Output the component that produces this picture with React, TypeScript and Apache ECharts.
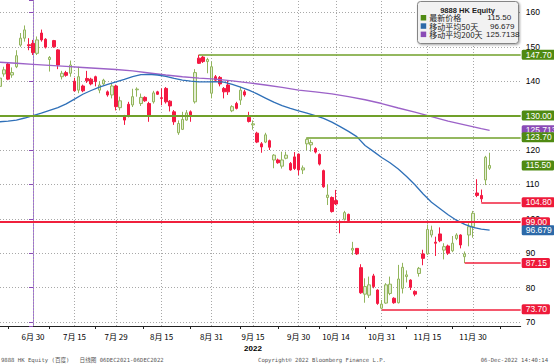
import React, { useEffect, useRef } from 'react';
import * as echarts from 'echarts';

// Trading days (2022), index -8 .. 110 (06-30 = 0)
const tradingDays = [
  '06-20','06-21','06-22','06-23','06-24','06-27','06-28','06-29','06-30',
  '07-04','07-05','07-06','07-07','07-08','07-11','07-12','07-13','07-14','07-15','07-18','07-19','07-20','07-21','07-22','07-25','07-26','07-27','07-28','07-29',
  '08-01','08-02','08-03','08-04','08-05','08-08','08-09','08-10','08-11','08-12','08-15','08-16','08-17','08-18','08-19','08-22','08-23','08-24','08-25','08-26','08-29','08-30','08-31',
  '09-01','09-02','09-05','09-06','09-07','09-08','09-09','09-13','09-14','09-15','09-16','09-19','09-20','09-21','09-22','09-23','09-26','09-27','09-28','09-29','09-30',
  '10-03','10-05','10-06','10-07','10-10','10-11','10-12','10-13','10-14','10-17','10-18','10-19','10-20','10-21','10-24','10-25','10-26','10-27','10-28','10-31',
  '11-01','11-02','11-03','11-04','11-07','11-08','11-09','11-10','11-11','11-14','11-15','11-16','11-17','11-18','11-21','11-22','11-23','11-24','11-25','11-28','11-29','11-30',
  '12-01','12-02','12-05','12-06'
];
const FIRST_DAY = -8;

const openP = [
  138.5,142.1,145,141.8,144.2,150.5,152.5,150.6,151,
  148.1,154,152.2,146.3,151.8,149.1,141.3,142.5,142.3,140,137.4,138.6,140.8,140.6,141.3,137.4,139.2,136.9,136,138.6,
  132.3,129.9,133.3,133.1,137.5,133.5,135.3,133.5,134,136.9,135.2,137.9,134.2,131.1,125,126,128.7,131.1,134,146.7,147,145.7,136.5,
  141.3,141.1,137.9,138.9,131.4,133.5,134.5,136.9,129.5,127.3,124.9,121.8,122.3,122.7,117.1,117.1,115.3,117.6,116.1,118,118.8,
  114.2,121.8,121.5,120.4,118.7,114,106.2,106.2,105.3,99.2,99.9,101.3,90.9,91.4,85.8,78.1,77.8,83.4,79.3,74,
  75.5,78.3,76.9,75.6,79.8,83.2,82.2,78.9,84.1,89.8,89.8,95.3,93.2,95.6,90.9,92.1,90.7,94.3,95.3,89,95.3,97.7,
  107.5,106.8,111.3,114.7
];
const closeP = [
  140.9,143.3,140.6,142.5,147.4,152.5,154.9,150.3,148.3,
  152,152,149.9,146.9,150,144.7,142.3,141.7,144.7,137.2,141.3,137.2,140.1,139.2,139.9,138.9,140.3,136,138.6,132.6,
  134.3,128.7,129.9,135.5,137.7,135.3,134.3,129.9,136.6,136.2,135,134,132.8,128.2,127.7,128.9,130.8,130.2,142.5,145.2,145.7,146.3,144.2,
  140.3,139.2,136.9,136.9,132.6,132.1,137.4,136,128.3,127.6,122.3,120.9,124.4,120.8,118.5,116.3,117.1,118.5,114.2,114.6,114.2,
  114.8,123.1,122.2,119.4,115.9,109.3,106.9,102.1,104.3,98.9,101.8,99.5,91.4,89.8,78.5,80.3,80.8,80.3,75.4,75.2,
  80.8,81,75.6,82.5,85.9,83.7,80.1,78.1,85.6,88.5,96.9,96.7,92.9,93.6,91.9,90,92.9,95.3,92.4,89.8,97.7,101.6,
  106.8,105.8,117.9,115.5
];
const lowP = [
  137.5,141.3,140.3,141,143.8,150,151.5,149,147.6,
  147.6,151.5,149.5,142.8,149.7,143.5,140.5,141.3,141.3,137,136.5,136.8,139.5,138.8,138.5,136.5,138.8,135.5,135,131.5,
  131.5,127.3,129.5,132.5,135.5,132.8,134,128.2,133.5,136,133,133.5,131.2,127.3,124.4,125.8,128.5,128.2,133.5,145,145.3,142.3,135,
  139.8,138.5,135,136,131,131.8,133.1,135.5,128,125.9,122,119.2,122,120,114.7,116,114.6,117.3,114,114.2,112.7,
  113,119.9,119.5,119,115.5,109,104,101.8,104,95.8,99.5,99.2,89.5,89.5,78.2,75.6,77,79.8,75,73.7,
  75.3,77.8,75.3,75.4,78.3,81.5,79.3,77.5,83.2,86.5,89.5,94.6,89.2,93.2,88.2,89.5,90.3,93.8,91.4,87.15,92,94.5,
  106.3,104.8,109.8,114.2
];
const highP = [
  141.5,144.2,145.3,144,149,154,156.2,152.5,152,
  153,155,152.5,147.3,152,149.3,143,143,146,141,144.2,139,143,141,141.6,140,140.7,137.3,139.5,139,
  135.5,130.2,134,137.8,138.2,136.4,135.6,134,137.2,137.2,137.9,138.3,134.5,131.6,128.6,131.1,131.6,131.5,143.5,147.7,147.3,146.8,145.7,
  141.8,141.5,138.3,140.3,133,134,138.4,137.5,131.1,128.6,125.3,122.3,125,123,118.8,117.5,119.5,119.5,116.5,119.4,119,
  115.5,123.7,123,120.8,119,114.3,110,106.5,108.4,99.6,102.3,101.5,93.3,91.5,86.8,82.7,83.2,84,79.5,76.4,
  81.3,83.2,77.2,86.6,87.2,85,82.4,79.2,86,91,98.3,98,94.8,97.5,92.9,92.5,95,95.8,95.5,90.5,98.7,102.3,
  111.5,108.5,118.3,119.2
];

// Moving averages
const ma50Days = [-8,-6,-4,-2,0,2,4,6,8,10,12,14,16,18,20,22,24,26,28,30,32,34,36,38,40,42,44,46,48,50,52,54,56,58,60,62,64,66,68,70,72,74,76,78,80,82,84,86,88,90,92,94,96,98,100,102,104,106,108,110];
const ma50 = [128.2,128.4,128.7,129.3,130.0,130.7,131.5,132.3,133.4,134.8,136.2,137.3,138.3,139.1,139.8,140.5,141.3,141.9,142.0,141.8,141.4,140.8,140.3,140.0,139.8,139.8,139.9,139.7,139.1,138.3,137.4,136.3,135.1,133.9,132.9,132.1,131.4,130.7,130.0,129.2,128.1,126.8,125.4,123.9,121.3,119.6,117.8,116.3,114.5,112.3,109.9,107.2,104.8,103.0,101.2,99.6,98.4,97.5,97.0,96.679];
const ma200Days = [-8,-4,0,4,8,12,16,20,24,28,32,36,40,44,48,52,56,60,64,68,72,76,80,84,88,92,96,100,104,108,110];
const ma200 = [145.5,145.2,144.9,144.6,144.3,144.0,143.7,143.4,143.0,142.4,141.8,141.3,140.9,140.6,140.1,139.5,138.9,138.2,137.4,136.9,136.3,135.5,134.6,133.5,132.2,131.0,129.7,128.4,127.3,126.2,125.7138];

// Axis labels
const labelDays = [0, 10, 20, 31, 43, 53, 64, 73, 84, 95, 106];
const labelTexts = ['6月 30', '7月 15', '7月 29', '8月 15', '8月 31', '9月 15', '9月 30', '10月 14', '10月 31', '11月 15', '11月 30'];
const yearDay = 53;
const yearText = '2022';
const tickDays = [-6, 4, 15, 26.5, 38, 50, 59, 69, 80, 90, 101, 112.5];

// Levels
const fullLevels = [
  { value: 130.0, text: '130.00', kind: 'green' },
  { value: 99.0, text: '99.00', kind: 'red' },
];
const partLevels = [
  { value: 147.7, from: 40, text: '147.70', kind: 'green' },
  { value: 123.7, from: 66, text: '123.70', kind: 'green' },
  { value: 104.8, from: 108, text: '104.80', kind: 'red' },
  { value: 87.15, from: 104, text: '87.15', kind: 'red' },
  { value: 73.7, from: 84, text: '73.70', kind: 'red' },
];
const lastPrice = { value: 115.5, text: '115.50' };
const ma50Last = { value: 96.679, text: '96.679' };
const ma200Last = { value: 125.7138, text: '125.7138' };

const X_MIN = -7.95;
const X_MAX = 117.49;

const C = {
  greenLine: '#70a02a',
  greenTag: '#4f8a12',
  redLine: '#f0203c',
  redTag: '#ee1a3a',
  blue: '#2f70b8',
  blueTag: '#2c69a8',
  purple: '#9c62c8',
  purpleTag: '#8a4bb6',
  upFill: '#e3edd4',
  upBorder: '#92b55c',
  down: '#f41942',
  grid: '#a8a8a8',
};

const NUM_FONT = "'Liberation Sans Narrow','Liberation Sans',sans-serif";
const CJK_FONT = "'Liberation Sans Narrow','Noto Sans CJK SC',sans-serif";

function tagLabel(text: string, bg: string) {
  return {
    show: true,
    position: 'end',
    distance: 1,
    formatter: text,
    color: '#fff',
    backgroundColor: bg,
    fontSize: 8.5,
    fontFamily: NUM_FONT,
    lineHeight: 9,
    padding: [1, 3, 0, 4],
    borderRadius: 1.5,
    opacity: 1,
  };
}

const HIDDEN_LINE = { color: 'rgba(0,0,0,0)', width: 0.01, type: 'solid' };

function buildOption() {
  const candles = openP.map((o, i) => [FIRST_DAY + i, o, closeP[i], lowP[i], highP[i]]);
  const labelMap: Record<number, string> = {};
  labelDays.forEach((d, i) => { labelMap[d] = labelTexts[i]; });

  const levelData: any[] = [];
  levelData.push({ yAxis: ma200Last.value, lineStyle: HIDDEN_LINE, label: tagLabel(ma200Last.text, C.purpleTag) });
  fullLevels.forEach((l) => {
    const col = l.kind === 'green' ? C.greenLine : C.redLine;
    const tagc = l.kind === 'green' ? C.greenTag : C.redTag;
    levelData.push({ yAxis: l.value, lineStyle: { color: col, width: 2, type: 'solid' }, label: tagLabel(l.text, tagc) });
  });
  partLevels.forEach((l) => {
    const col = l.kind === 'green' ? C.greenLine : C.redLine;
    const tagc = l.kind === 'green' ? C.greenTag : C.redTag;
    const common = { lineStyle: { color: col, width: 1.6, type: 'solid' }, label: tagLabel(l.text, tagc) };
    levelData.push([
      { coord: [l.from, l.value], ...common },
      { coord: [X_MAX - 0.01, l.value], ...common },
    ]);
  });
  levelData.push({ yAxis: ma50Last.value, lineStyle: HIDDEN_LINE, label: tagLabel(ma50Last.text, C.blueTag) });
  levelData.push({ yAxis: lastPrice.value, lineStyle: HIDDEN_LINE, label: tagLabel(lastPrice.text, C.greenTag) });

  const legendX = 417.5;
  const legendRows = [
    { color: '#4f8a12', name: '最新价格', val: '115.50', vx: 487.3 },
    { color: '#2c69a8', name: '移动平均50天', val: '96.679', vx: 490 },
    { color: '#8a4bb6', name: '移动平均200天', val: '125.7138', vx: 486 },
  ];
  const graphic: any[] = [
    {
      type: 'rect', z: 100,
      shape: { x: legendX, y: 1.5, width: 101, height: 42, r: 3 },
      style: { fill: '#f2f2f2', stroke: '#858585', lineWidth: 1, shadowBlur: 2, shadowOffsetX: 1, shadowOffsetY: 1, shadowColor: 'rgba(0,0,0,0.35)' },
    },
    {
      type: 'text', z: 101, x: 467.5, y: 10,
      style: { text: '9888 HK Equity', fill: '#222', fontSize: 7.5, fontWeight: 'bold', fontFamily: "'Liberation Sans',sans-serif", align: 'center', verticalAlign: 'middle' },
    },
  ];
  legendRows.forEach((r, i) => {
    const y = 17.8 + i * 8.3;
    graphic.push({ type: 'rect', z: 101, shape: { x: 420.7, y: y - 2.8, width: 5.5, height: 5.5 }, style: { fill: r.color } });
    graphic.push({ type: 'text', z: 101, x: 429.3, y, style: { text: r.name, fill: '#222', fontSize: 8, fontFamily: "'Noto Sans CJK SC',sans-serif", align: 'left', verticalAlign: 'middle' } });
    graphic.push({ type: 'text', z: 101, x: r.vx, y, style: { text: r.val, fill: '#222', fontSize: 8, fontFamily: "'Liberation Sans',sans-serif", align: 'left', verticalAlign: 'middle' } });
  });
  const footFont = "'DejaVu Sans Mono','Noto Sans CJK SC',monospace";
  graphic.push({ type: 'text', z: 101, x: 1, y: 359.5, style: { text: '9888 HK Equity (百度)   日线图 06DEC2021-06DEC2022', fill: '#555', fontSize: 5.6, fontFamily: footFont, align: 'left', verticalAlign: 'middle' } });
  graphic.push({ type: 'text', z: 101, x: 322, y: 359.5, style: { text: 'Copyright© 2022 Bloomberg Finance L.P.', fill: '#555', fontSize: 5.6, fontFamily: footFont, align: 'center', verticalAlign: 'middle' } });
  graphic.push({ type: 'text', z: 101, x: 548, y: 359.5, style: { text: '06-Dec-2022 14:40:14', fill: '#555', fontSize: 5.6, fontFamily: footFont, align: 'right', verticalAlign: 'middle' } });

  return {
    animation: false,
    backgroundColor: '#ffffff',
    grid: { left: 0, right: 33.3, top: 0, bottom: 38, containLabel: false, outerBoundsMode: 'none' },
    xAxis: {
      type: 'value', min: X_MIN, max: X_MAX,
      axisLine: { show: true, onZero: false, lineStyle: { color: '#222', width: 1 } },
      axisTick: { show: true, customValues: tickDays, length: 3, lineStyle: { color: '#222' } },
      axisLabel: {
        show: true, customValues: labelDays, margin: 4,
        color: '#000', fontSize: 8, fontFamily: CJK_FONT,
        formatter: (v: number) => (v === yearDay ? `{a|${labelMap[v]}}\n{b|${yearText}}` : `{a|${labelMap[v] || ''}}`),
        rich: {
          a: { fontSize: 8, fontFamily: CJK_FONT, color: '#000', lineHeight: 12 },
          b: { fontSize: 8, fontFamily: NUM_FONT, fontWeight: 'bold', color: '#000', lineHeight: 12 },
        },
      },
      splitLine: { show: false },
    },
    yAxis: {
      type: 'value', position: 'right', min: 68.84, max: 163.6,
      splitNumber: 10, minInterval: 10, maxInterval: 10,
      axisLine: { show: true, lineStyle: { color: '#a070d0', width: 1 } },
      axisTick: { show: true, inside: true, length: 4, lineStyle: { color: '#8a4bb6' } },
      axisLabel: {
        margin: 5, color: '#000', fontSize: 8.5, fontFamily: NUM_FONT,
        formatter: (v: number) => (Math.abs(v - Math.round(v / 10) * 10) < 1e-6 ? String(Math.round(v)) : ''),
      },
      splitLine: { show: true, showMinLine: false, showMaxLine: false, lineStyle: { color: C.grid, type: [1, 2], width: 1 } },
    },
    graphic,
    series: [
      {
        type: 'candlestick',
        name: '9888 HK Equity',
        data: candles,
        encode: { x: 0, y: [1, 2, 3, 4] },
        barWidth: 3,
        clip: true,
        itemStyle: { color: C.upFill, color0: C.down, borderColor: C.upBorder, borderColor0: C.down, borderWidth: 1 },
        markLine: {
          silent: true, symbol: 'none', z: 1, animation: false,
          label: { show: false },
          lineStyle: { color: C.grid, type: [1, 2], width: 1 },
          data: labelDays.map((d) => ({ xAxis: d })),
        },
      },
      {
        type: 'line', name: '移动平均200天',
        data: ma200Days.map((d, i) => [d, ma200[i]]),
        showSymbol: false, symbol: 'none',
        lineStyle: { color: C.purple, width: 1.4 },
      },
      {
        type: 'line', name: '移动平均50天',
        data: ma50Days.map((d, i) => [d, ma50[i]]),
        showSymbol: false, symbol: 'none',
        lineStyle: { color: C.blue, width: 1.3 },
      },
      {
        type: 'line', name: 'levels', data: [],
        markLine: {
          silent: true, symbol: 'none', animation: false,
          precision: 4,
          data: levelData,
        },
      },
    ],
  };
}

export default function App() {
  const ref = useRef<HTMLDivElement>(null);
  useEffect(() => {
    if (!ref.current) return;
    const chart = echarts.init(ref.current, null, { renderer: 'svg' });
    chart.setOption(buildOption() as any);
    return () => chart.dispose();
  }, []);
  return (
    <div
      ref={ref}
      style={{ position: 'fixed', left: 0, top: 0, width: 554, height: 364, background: '#fff' }}
    />
  );
}
